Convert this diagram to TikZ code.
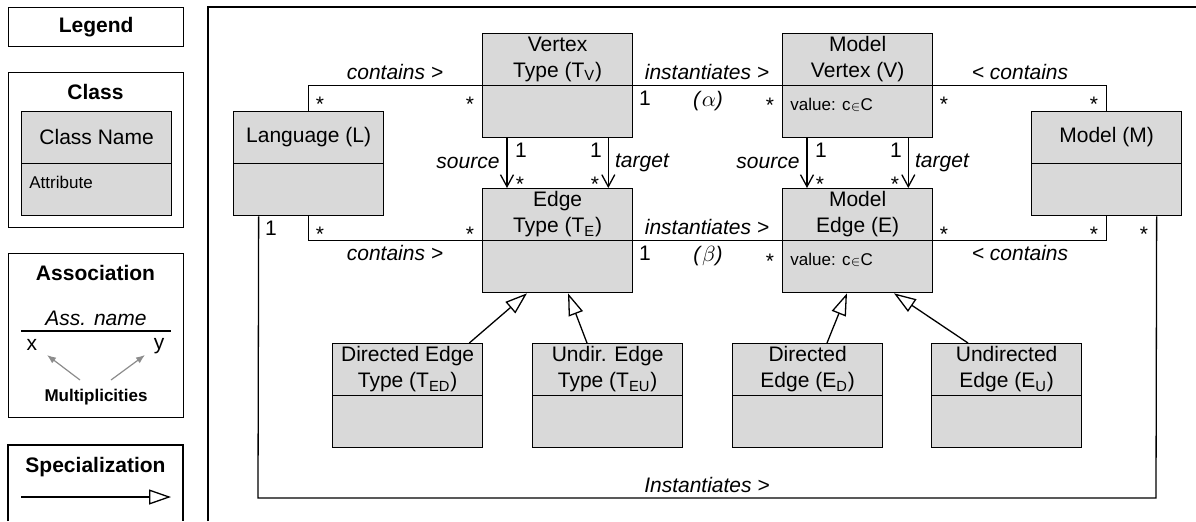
\documentclass[tikz,border=0pt]{standalone}
\usepackage{fontspec}
\setmainfont{Liberation Sans}
\usetikzlibrary{arrows.meta,calc}
\definecolor{boxgray}{RGB}{217,217,217}
\definecolor{multgray}{RGB}{140,140,140}
\newcommand{\fsN}{\fontsize{10.5}{13}\selectfont}
\newcommand{\fsS}{\fontsize{8.5}{10}\selectfont}
\tikzset{
 cls/.style={draw, fill=boxgray, line width=0.65pt, minimum width=75pt, minimum height=52pt, inner sep=0pt, anchor=north west},
 ttl/.style={font=\fsN, align=center, inner sep=0pt},
 attr/.style={font=\fsS, anchor=west, inner sep=0pt},
 lbl/.style={font=\fsN\itshape, inner sep=0pt},
 mult/.style={font=\fsN, inner sep=0pt},
 star/.style={mult, yshift=-2.2pt},
 assoc/.style={line width=0.65pt},
 nav/.style={assoc, -{Straight Barb[length=6pt,width=6.5pt]}},
 spec/.style={assoc, -{Triangle[fill=white,length=11pt,width=7.5pt]}},
 garrow/.style={draw=multgray, line width=0.6pt, -{Latex[length=4.5pt,width=3.5pt]}},
 lgbox/.style={draw, line width=0.65pt, minimum width=87.5pt, inner sep=0pt, anchor=north west},
 lgt/.style={font=\fsN\bfseries, inner sep=0pt},
}
\newcommand{\umlclass}[5]{%
 \node[cls] (#1) at (#2,#3) {};
 \draw[line width=0.65pt] (#1.west) -- (#1.east);
 \node[ttl] (#1-t) at ($(#1.north)!0.5!(#1.center)$) {#4};
 \node[attr] (#1-a) at ($(#1.west)+(4pt,-9.5pt)$) {#5};
}
\begin{document}
\begin{tikzpicture}[x=0.5pt,y=-0.5pt]
\useasboundingbox (0,0) rectangle (1196,521);
% ---------- legend ----------
\node[lgbox, minimum height=19.5pt] (lgL) at (8,7) {};
\node[lgt] (lgLt) at (lgL.center) {Legend};
\node[lgbox, minimum height=77.5pt] (lgC) at (8,72) {};
\node[lgt] (lgCt) at (95.5,92) {Class};
\umlclass{CN}{21}{111}{Class Name}{Attribute}
\node[lgbox, minimum height=82pt] (lgA) at (8,253) {};
\node[lgt] (lgAt) at (95.5,273) {Association};
\node[lbl] (lgAn) at (96,318) {Ass. name};
\coordinate (al1) at (21,331);
\coordinate (al2) at (171,331);
\draw[assoc] (al1) -- (al2);
\node[mult] (lgx) at (32,345) {x};
\node[mult] (lgy) at (159,346) {y};
\node[font=\fsS\bfseries, inner sep=0pt] (lgM) at (96,397) {Multiplicities};
\coordinate (ga1) at (80,380);
\coordinate (ga2) at (47,355);
\coordinate (gb1) at (111,380);
\coordinate (gb2) at (145,355);
\draw[garrow] (ga1) -- (ga2);
\draw[garrow] (gb1) -- (gb2);
\coordinate (sb1) at (8,521);
\coordinate (sb2) at (8,445);
\coordinate (sb3) at (183,445);
\coordinate (sb4) at (183,521);
\draw[assoc] (sb1) -- (sb2) -- (sb3) -- (sb4);
\node[lgt] (lgSt) at (95.5,467) {Specialization};
\coordinate (sp1) at (21,497);
\coordinate (sp2) at (171,497);
\draw[spec] (sp1) -- (sp2);
% ---------- frame ----------
\coordinate (f1) at (208,521);
\coordinate (f2) at (208,7);
\coordinate (f3) at (1196,7);
\draw[assoc] (f1) -- (f2) -- (f3);
% ---------- classes ----------
\umlclass{L}{233}{111}{Language (L)}{}
\umlclass{VT}{482}{33}{Vertex\\Type (T\textsubscript{V})}{}
\umlclass{MV}{782}{33}{Model\\Vertex (V)}{value: c$\scriptstyle\in$C}
\umlclass{M}{1031}{111}{Model (M)}{}
\umlclass{ET}{482}{188}{Edge\\Type (T\textsubscript{E})}{}
\umlclass{ME}{782}{188}{Model\\Edge (E)}{value: c$\scriptstyle\in$C}
\umlclass{DET}{332}{343}{Directed Edge\\Type (T\textsubscript{ED})}{}
\umlclass{UET}{532}{343}{Undir. Edge\\Type (T\textsubscript{EU})}{}
\umlclass{DE}{732}{343}{Directed\\Edge (E\textsubscript{D})}{}
\umlclass{UE}{931}{343}{Undirected\\Edge (E\textsubscript{U})}{}
% ---------- associations ----------
\draw[assoc] (L.north) |- (VT.west);
\draw[assoc] (VT.east) -- (MV.west);
\draw[assoc] (M.north) |- (MV.east);
\draw[assoc] (L.south) |- (ET.west);
\draw[assoc] (ET.east) -- (ME.west);
\draw[assoc] (M.south) |- (ME.east);
\coordinate (ib1) at (258,498);
\coordinate (ib2) at (1156,498);
\draw[assoc] ([xshift=-25pt]L.south) -- (ib1) -- (ib2) -- ([xshift=25pt]M.south);
\draw[nav] ([xshift=12.5pt]VT.south west) -- ([xshift=12.5pt]ET.north west);
\draw[nav] ([xshift=-12.5pt]VT.south east) -- ([xshift=-12.5pt]ET.north east);
\draw[nav] ([xshift=12.5pt]MV.south west) -- ([xshift=12.5pt]ME.north west);
\draw[nav] ([xshift=-12.5pt]MV.south east) -- ([xshift=-12.5pt]ME.north east);
% ---------- specializations ----------
\draw[spec] ([xshift=-7pt]DET.north east) -- ([xshift=22.5pt]ET.south west);
\draw[spec] ([xshift=27.5pt]UET.north west) -- ([xshift=43pt]ET.south west);
\draw[spec] ([xshift=47.5pt]DE.north west) -- ([xshift=32.5pt]ME.south west);
\draw[spec] ([xshift=18.5pt]UE.north west) -- ([xshift=56pt]ME.south west);
% ---------- labels ----------
\node[lbl] (c1) at (395,72) {contains >};
\node[lbl] (i1) at (707,72) {instantiates >};
\node[lbl] (c2) at (1020,72) {< contains};
\node[lbl] (c3) at (395,253) {contains >};
\node[lbl] (i2) at (707,227) {instantiates >};
\node[lbl] (c4) at (1020,253) {< contains};
\node[lbl] (i3) at (707,485) {Instantiates >};
\node[lbl] (s1) at (468,163) {source};
\node[lbl] (t1) at (642,163) {target};
\node[lbl] (s2) at (768,163) {source};
\node[lbl] (t2) at (942,163) {target};
\node[mult] (al) at (708,101) {\textit{(}$\alpha$\textit{)}};
\node[mult] (be) at (708,256) {\textit{(}$\beta$\textit{)}};
% ---------- multiplicities ----------
\node[star] (m1) at (320,100) {*};
\node[star] (m2) at (470,100) {*};
\node[mult] (m3) at (645,98) {1};
\node[star] (m4) at (770,101) {*};
\node[star] (m5) at (944,100) {*};
\node[star] (m6) at (1094,100) {*};
\node[star] (m7) at (320,230) {*};
\node[star] (m8) at (470,230) {*};
\node[mult] (m9) at (645,253) {1};
\node[star] (m10) at (770,257) {*};
\node[star] (m11) at (944,230) {*};
\node[star] (m12) at (1094,230) {*};
\node[star] (m13) at (1144,230) {*};
\node[mult] (m14) at (271,228) {1};
\node[mult] (n1) at (521,150) {1};
\node[star] (n2) at (520,180) {*};
\node[mult] (n3) at (596,150) {1};
\node[star] (n4) at (595,180) {*};
\node[mult] (n5) at (821,150) {1};
\node[star] (n6) at (820,180) {*};
\node[mult] (n7) at (896,150) {1};
\node[star] (n8) at (895,180) {*};
\end{tikzpicture}
\end{document}
